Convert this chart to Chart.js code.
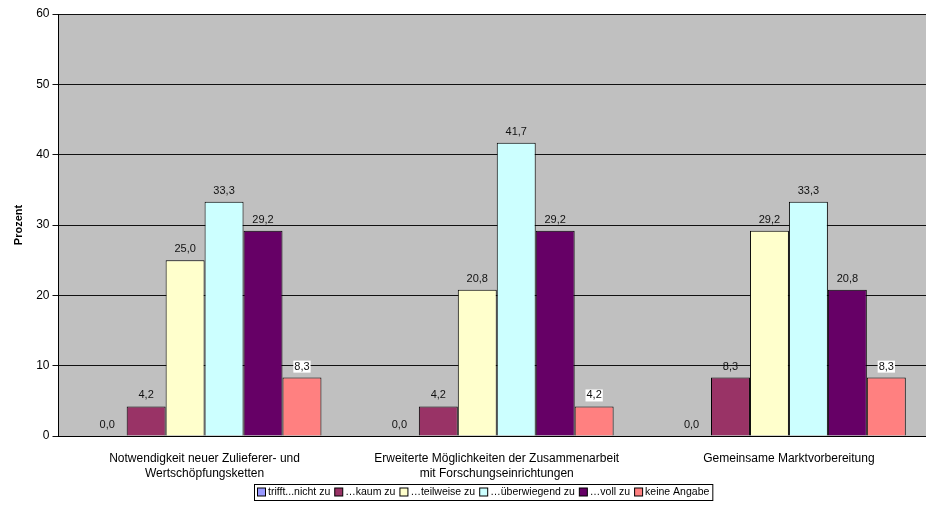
<!DOCTYPE html>
<html>
<head>
<meta charset="utf-8">
<script src="https://cdn.jsdelivr.net/npm/chart.js@4.4.0/dist/chart.umd.min.js"></script>
<style>
  html, body { margin: 0; padding: 0; background: #fff; overflow: hidden; }
  #wrap { width: 935px; height: 517px; position: relative; }
</style>
</head>
<body>
<div id="wrap"><canvas id="chart"></canvas></div>
<script>
// categories (x axis, two lines each)
var categories = [
    ['Notwendigkeit neuer Zulieferer- und', 'Wertschöpfungsketten'],
    ['Erweiterte Möglichkeiten der Zusammenarbeit', 'mit Forschungseinrichtungen'],
    ['Gemeinsame Marktvorbereitung']
];

// series values in percent
var triffNicht   = [0.0, 0.0, 0.0];
var kaumZu       = [4.2, 4.2, 8.3];
var teilweiseZu  = [25.0, 20.8, 29.2];
var ueberwiegend = [33.3, 41.7, 33.3];
var vollZu       = [29.2, 29.2, 20.8];
var keineAngabe  = [8.3, 4.2, 8.3];

var seriesNames = ['trifft...nicht zu', '…kaum zu', '…teilweise zu', '…überwiegend zu', '…voll zu', 'keine Angabe'];
var seriesColors = ['#9999FF', '#993366', '#FFFFCC', '#CCFFFF', '#660066', '#FF8080'];
var yTicks = [0, 10, 20, 30, 40, 50, 60];

var allSeries = [triffNicht, kaumZu, teilweiseZu, ueberwiegend, vollZu, keineAngabe];

var FONT = 'Arial, "Liberation Sans", sans-serif';

// grey plot background
var plotBg = {
    id: 'plotBg',
    beforeDraw: function (chart) {
        var a = chart.chartArea, ctx = chart.ctx;
        ctx.save();
        ctx.fillStyle = '#C0C0C0';
        ctx.fillRect(a.left, a.top, a.right - a.left, a.bottom - a.top);
        ctx.restore();
    }
};

// value labels above the bars, "keine Angabe" gets a white box
var valueLabels = {
    id: 'valueLabels',
    afterDatasetsDraw: function (chart) {
        var ctx = chart.ctx;
        ctx.save();
        ctx.font = '11px ' + FONT;
        ctx.textAlign = 'center';
        ctx.textBaseline = 'middle';
        chart.data.datasets.forEach(function (ds, i) {
            chart.getDatasetMeta(i).data.forEach(function (bar, j) {
                var txt = ds.data[j].toFixed(1).replace('.', ',');
                var y = bar.y - 11;
                if (i === 5) {
                    var w = ctx.measureText(txt).width;
                    ctx.fillStyle = '#fff';
                    ctx.fillRect(bar.x - w / 2 - 1, y - 6, w + 2, 12);
                }
                ctx.fillStyle = '#111';
                ctx.fillText(txt, bar.x, y);
            });
        });
        ctx.restore();
    }
};

// Excel style legend with a frame
var boxLegend = {
    id: 'boxLegend',
    afterDraw: function (chart) {
        var ctx = chart.ctx;
        ctx.save();
        ctx.font = '10.5px ' + FONT;
        var x0 = 254, top = 484, h = 16;
        var x = x0 + 3;
        var cy = top + h / 2 + 0.5;
        ctx.textBaseline = 'middle';
        chart.data.datasets.forEach(function (ds) {
            ctx.fillStyle = ds.backgroundColor;
            ctx.fillRect(x + 0.5, cy - 4.5, 8, 8);
            ctx.strokeStyle = '#000';
            ctx.lineWidth = 1;
            ctx.strokeRect(x + 0.5, cy - 4.5, 8, 8);
            x += 11;
            ctx.fillStyle = '#000';
            ctx.fillText(ds.label, x, cy);
            x += ctx.measureText(ds.label).width + 4;
        });
        ctx.strokeStyle = '#000';
        ctx.strokeRect(x0 + 0.5, top + 0.5, x - x0 - 1, h);
        ctx.restore();
    }
};

var ctx = document.getElementById('chart').getContext('2d');
var chart = new Chart(ctx, {
    type: 'bar',
    data: {
        labels: categories,
        datasets: allSeries.map(function (vals, i) {
            return {
                label: seriesNames[i],
                data: vals,
                backgroundColor: seriesColors[i],
                borderColor: '#000',
                borderWidth: 1,
                borderSkipped: 'bottom',
                barPercentage: 1.0,
                categoryPercentage: 0.8
            };
        })
    },
    options: {
        responsive: true,
        maintainAspectRatio: false,
        animation: false,
        layout: { padding: { top: 14, left: 0, right: 0, bottom: 0 } },
        plugins: {
            legend: { display: false },
            tooltip: { enabled: false }
        },
        scales: {
            x: {
                grid: { display: false },
                border: { display: true, color: '#000', width: 1 },
                ticks: {
                    color: '#000',
                    font: { family: FONT, size: 12, lineHeight: 1.25 },
                    padding: 7,
                    maxRotation: 0,
                    autoSkip: false
                },
                afterFit: function (scale) { scale.height = 81; }
            },
            y: {
                min: 0,
                max: 60,
                afterBuildTicks: function (scale) {
                    scale.ticks = yTicks.map(function (v) { return { value: v }; });
                },
                grid: { color: '#111', lineWidth: 1, tickLength: 6, drawTicks: true },
                border: { display: true, color: '#000', width: 1 },
                ticks: {
                    color: '#000',
                    font: { family: FONT, size: 12 },
                    padding: 3
                },
                title: {
                    display: true,
                    text: 'Prozent',
                    color: '#000',
                    font: { family: FONT, size: 11, weight: 'bold' },
                    padding: { top: 12, bottom: 0 }
                },
                afterFit: function (scale) { scale.width = 58.5; }
            }
        }
    },
    plugins: [plotBg, valueLabels, boxLegend]
});
</script>
</body>
</html>
